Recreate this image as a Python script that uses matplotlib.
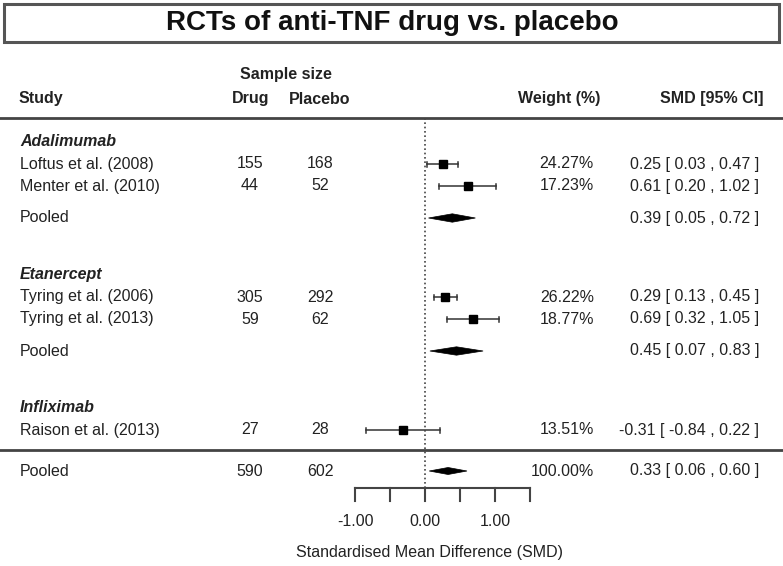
import numpy as np
import matplotlib
matplotlib.use("Agg")
import matplotlib.pyplot as plt
from matplotlib.patches import Rectangle, Polygon

plt.rcParams['font.family'] = ['Liberation Sans', 'DejaVu Sans']

# data
groups = ["Adalimumab", "Etanercept", "Infliximab"]
studies = [["Loftus et al. (2008)", "Menter et al. (2010)"],
           ["Tyring et al. (2006)", "Tyring et al. (2013)"],
           ["Raison et al. (2013)"]]
n_drug = [[155, 44], [305, 59], [27]]
n_placebo = [[168, 52], [292, 62], [28]]
weights = [[24.27, 17.23], [26.22, 18.77], [13.51]]
smd = [[0.25, 0.61], [0.29, 0.69], [-0.31]]
ci_low = [[0.03, 0.20], [0.13, 0.32], [-0.84]]
ci_high = [[0.47, 1.02], [0.45, 1.05], [0.22]]
# pooled per group (None = no pooled row)
pooled_smd = [0.39, 0.45, None]
pooled_low = [0.05, 0.07, None]
pooled_high = [0.72, 0.83, None]
# overall
total_drug, total_placebo = 590, 602
overall_smd, overall_low, overall_high = 0.33, 0.06, 0.60
axis_ticks = np.arange(-1.0, 1.51, 0.5)
axis_labels = [-1.0, 0.0, 1.0]

# layout (pixels)
W, H = 783, 566
X0, PPU = 425, 70.0   # pixel of SMD=0, pixels per SMD unit
FS = 11.5
TXT = '#222222'
LINE = '#444444'


def fx(px):
    return (px - X0) / PPU


def ci_str(m, l, h):
    return "%.2f [ %.2f , %.2f ]" % (m, l, h)


def diamond(ax, m, l, h, y, hh=4.2):
    ax.add_patch(Polygon([[l, y], [m, y - hh], [h, y], [m, y + hh]],
                         closed=True, fc='black', ec='black', lw=0.5))


fig = plt.figure(figsize=(W / 100, H / 100), dpi=100)
ax = fig.add_axes([0, 0, 1, 1])
ax.set_xlim(fx(0), fx(W))
ax.set_ylim(H, 0)
ax.axis('off')

# title box
ax.add_patch(Rectangle((fx(4), 4), 775 / PPU, 38, fill=False, ec='#555555', lw=2.2))
ax.text(fx(392), 23, "RCTs of anti-TNF drug vs. placebo", ha='center', va='center',
        fontsize=20, fontweight='bold', color='#111111')

# headers
ax.text(fx(286), 75, "Sample size", ha='center', va='center', fontsize=FS, fontweight='bold', color=TXT)
ax.text(fx(19), 98, "Study", ha='left', va='center', fontsize=FS, fontweight='bold', color=TXT)
ax.text(fx(251), 99, "Drug", ha='center', va='center', fontsize=FS, fontweight='bold', color=TXT)
ax.text(fx(320), 99, "Placebo", ha='center', va='center', fontsize=FS, fontweight='bold', color=TXT)
ax.text(fx(600), 98, "Weight (%)", ha='right', va='center', fontsize=FS, fontweight='bold', color=TXT)
ax.text(fx(763), 98, "SMD [95% CI]", ha='right', va='center', fontsize=FS, fontweight='bold', color=TXT)

ax.plot([fx(0), fx(W)], [118, 118], color=LINE, lw=2)

# rows
y = 142
for g in range(len(groups)):
    ax.text(fx(20), y, groups[g], ha='left', va='center', fontsize=FS,
            fontweight='bold', style='italic', color=TXT)
    for i in range(len(studies[g])):
        y += 22
        ax.text(fx(20), y, studies[g][i], ha='left', va='center', fontsize=FS, color=TXT)
        ax.text(fx(250), y, str(n_drug[g][i]), ha='center', va='center', fontsize=FS, color=TXT)
        ax.text(fx(320), y, str(n_placebo[g][i]), ha='center', va='center', fontsize=FS, color=TXT)
        ax.text(fx(594), y, "%.2f%%" % weights[g][i], ha='right', va='center', fontsize=FS, color=TXT)
        ax.text(fx(759), y, ci_str(smd[g][i], ci_low[g][i], ci_high[g][i]),
                ha='right', va='center', fontsize=FS, color=TXT)
        ax.plot([ci_low[g][i], ci_high[g][i]], [y, y], color='#333333', lw=1.1)
        for e in (ci_low[g][i], ci_high[g][i]):
            ax.plot([e, e], [y - 2.5, y + 2.5], color='#333333', lw=1.1)
        ax.plot(smd[g][i], y, marker='s', ms=6, color='black', mec='black')
    if pooled_smd[g] is not None:
        y += 32
        ax.text(fx(20), y, "Pooled", ha='left', va='center', fontsize=FS, color=TXT)
        ax.text(fx(759), y, ci_str(pooled_smd[g], pooled_low[g], pooled_high[g]),
                ha='right', va='center', fontsize=FS, color=TXT)
        diamond(ax, pooled_smd[g], pooled_low[g], pooled_high[g], y)
        y += 57
    else:
        y += 20

# separator and overall
ax.plot([fx(0), fx(W)], [y, y], color=LINE, lw=2)
y += 21
ax.text(fx(20), y, "Pooled", ha='left', va='center', fontsize=FS, color=TXT)
ax.text(fx(250), y, str(total_drug), ha='center', va='center', fontsize=FS, color=TXT)
ax.text(fx(320), y, str(total_placebo), ha='center', va='center', fontsize=FS, color=TXT)
ax.text(fx(594), y, "%.2f%%" % 100.0, ha='right', va='center', fontsize=FS, color=TXT)
ax.text(fx(759), y, ci_str(overall_smd, overall_low, overall_high),
        ha='right', va='center', fontsize=FS, color=TXT)
diamond(ax, overall_smd, overall_low, overall_high, y, hh=3.5)

# x axis
ya = 488
ax.plot([0, 0], [118, ya], color=LINE, lw=1.2, ls=(0, (1, 1.6)))
ax.plot([axis_ticks[0], axis_ticks[-1]], [ya, ya], color=LINE, lw=1.5)
for t in axis_ticks:
    ax.plot([t, t], [ya, ya + 13], color=LINE, lw=1.5)
for t in axis_labels:
    ax.text(t, 522, "%.2f" % t, ha='center', va='center', fontsize=FS, color=TXT)
ax.text(fx(429), 553, "Standardised Mean Difference (SMD)", ha='center', va='center',
        fontsize=FS, color=TXT)

fig.savefig("out.png", dpi=100)
